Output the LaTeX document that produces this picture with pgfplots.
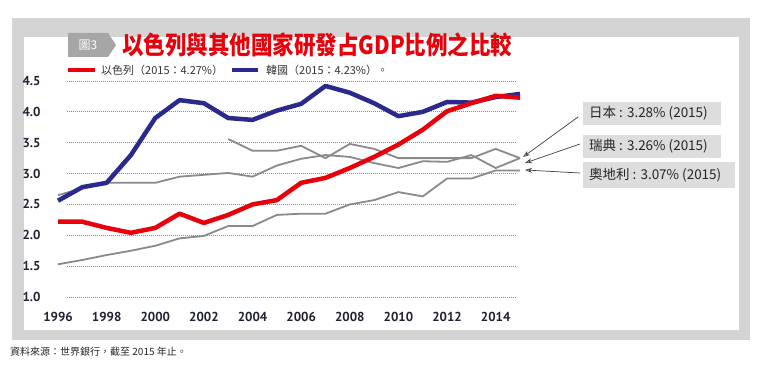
\documentclass[border=0pt]{standalone}
\usepackage{fontspec}
\usepackage{pgfplots}
\pgfplotsset{compat=1.18}
\usetikzlibrary{arrows.meta}
\setmainfont{Liberation Sans}
\newfontfamily\cjk{Noto Sans CJK TC}
\newfontfamily\tickf{PT Sans}
\definecolor{ired}{HTML}{E8000B}
\definecolor{kblue}{HTML}{2B2A8C}
\definecolor{lgray}{HTML}{8A8A8A}
\definecolor{frame}{HTML}{D4D4D4}
\definecolor{boxg}{HTML}{DCDDDC}
\definecolor{tabg}{HTML}{A6A6A6}
\definecolor{tickc}{HTML}{1F2233}
\begin{document}
\begin{tikzpicture}
\begin{scope}[x=1pt,y=1pt]
\path[use as bounding box] (0,0) rectangle (768,370);
\fill[frame] (12,30) rectangle (750,352);
\fill[white] (24,40) rectangle (739,333);
% tab
\fill[tabg] (68,337) -- (108,337) -- (116,325) -- (108,313) -- (68,313) -- cycle;
\node[text=white, font=\cjk\fontsize{12}{12}\selectfont] at (88,325) {圖3};
% title
\node[anchor=west, text=ired, inner sep=0pt] at (122,325) {\scalebox{0.86}[1]{\cjk\bfseries\fontsize{25}{25}\selectfont 以色列與其他國家研發占GDP比例之比較}};
% legend
\draw[ired, line width=4.5pt] (68,300) -- (95,300);
\node[anchor=west, text=black!80, font=\cjk\fontsize{11}{11}\selectfont, inner sep=0pt] at (101,300) {以色列（2015：4.27\%）};
\draw[kblue, line width=4.5pt] (232,300) -- (258,300);
\node[anchor=west, text=black!80, font=\cjk\fontsize{11}{11}\selectfont, inner sep=0pt] at (266,300) {韓國（2015：4.23\%）。};
% annotation boxes
\fill[boxg] (583,245) rectangle (721,268);
\node[anchor=west, font=\cjk\fontsize{13.5}{13.5}\selectfont, text=black!85, inner sep=0pt] at (589,256.5) {日本 : 3.28\% (2015)};
\fill[boxg] (583,212) rectangle (721,235);
\node[anchor=west, font=\cjk\fontsize{13.5}{13.5}\selectfont, text=black!85, inner sep=0pt] at (589,223.5) {瑞典 : 3.26\% (2015)};
\fill[boxg] (583,182) rectangle (735,208);
\node[anchor=west, font=\cjk\fontsize{13.5}{13.5}\selectfont, text=black!85, inner sep=0pt] at (589,195) {奧地利 : 3.07\% (2015)};
\draw[black!75, line width=0.7pt, -{Stealth[open, length=7pt, width=5pt]}] (578,253) -- (523,213);
\draw[black!75, line width=0.7pt, -{Stealth[open, length=7pt, width=5pt]}] (580,226) -- (525,207);
\draw[black!75, line width=0.7pt, -{Stealth[open, length=7pt, width=5pt]}] (580,197) -- (525,200);
% footer
\node[anchor=west, font=\cjk\fontsize{10}{10}\selectfont, text=black!85, inner sep=0pt] at (10,18) {資料來源：世界銀行，截至 2015 年止。};
\end{scope}
\begin{axis}[
  at={(58pt,73pt)}, anchor=south west,
  scale only axis, width=462pt, height=216pt,
  xmin=1996, xmax=2015, ymin=1, ymax=4.5,
  clip=false,
  axis line style={draw=none}, major tick length=0pt,
  xtick={1996,1998,2000,2002,2004,2006,2008,2010,2012,2014},
  ytick={1,1.5,2,2.5,3,3.5,4,4.5},
  /pgf/number format/assume math mode=true,
  xticklabel style={/pgf/number format/1000 sep=, font=\tickf\bfseries\fontsize{13}{13}\selectfont, text=tickc, yshift=-12pt},
  yticklabel style={/pgf/number format/fixed, /pgf/number format/fixed zerofill, /pgf/number format/precision=1, font=\tickf\bfseries\fontsize{13}{13}\selectfont, text=tickc, xshift=-14pt},
]
\pgfplotsinvokeforeach{1,1.5,2,2.5,3,3.5,4,4.5}{
  \draw[lgray, line width=0.8pt, dash pattern=on 1pt off 1pt] (axis cs:1996.37,#1) -- (axis cs:2014.8,#1);
}
% Austria
\addplot[lgray, line width=1.8pt, line join=round] coordinates {
(1996,1.53) (1997,1.60) (1998,1.68) (1999,1.75) (2000,1.83) (2001,1.95) (2002,1.99) (2003,2.15) (2004,2.15) (2005,2.33)
(2006,2.35) (2007,2.35) (2008,2.50) (2009,2.57) (2010,2.70) (2011,2.63) (2012,2.92) (2013,2.92) (2014,3.05) (2015,3.05)};
% gray line A
\addplot[lgray, line width=1.8pt, line join=round] coordinates {
(1996,2.65) (1997,2.76) (1998,2.85) (1999,2.85) (2000,2.85) (2001,2.95) (2002,2.98) (2003,3.01) (2004,2.95) (2005,3.13)
(2006,3.24) (2007,3.30) (2008,3.27) (2009,3.17) (2010,3.09) (2011,3.20) (2012,3.19) (2013,3.30) (2014,3.09) (2015,3.25)};
% gray line B
\addplot[lgray, line width=1.8pt, line join=round] coordinates {
(2003,3.56) (2004,3.37) (2005,3.37) (2006,3.45) (2007,3.25) (2008,3.48) (2009,3.40) (2010,3.25) (2011,3.25) (2012,3.25)
(2013,3.25) (2014,3.40) (2015,3.25)};
% Korea
\addplot[kblue, line width=4.5pt, line join=round] coordinates {
(1996,2.56) (1997,2.78) (1998,2.85) (1999,3.30) (2000,3.90) (2001,4.19) (2002,4.14) (2003,3.90) (2004,3.87) (2005,4.02)
(2006,4.13) (2007,4.42) (2008,4.31) (2009,4.14) (2010,3.93) (2011,4.00) (2012,4.16) (2013,4.15) (2014,4.24) (2015,4.29)};
% Israel
\addplot[ired, line width=4.5pt, line join=round] coordinates {
(1996,2.22) (1997,2.22) (1998,2.12) (1999,2.04) (2000,2.12) (2001,2.35) (2002,2.20) (2003,2.33) (2004,2.50) (2005,2.57)
(2006,2.85) (2007,2.93) (2008,3.09) (2009,3.27) (2010,3.47) (2011,3.71) (2012,4.01) (2013,4.14) (2014,4.26) (2015,4.23)};
\end{axis}
\end{tikzpicture}
\end{document}
